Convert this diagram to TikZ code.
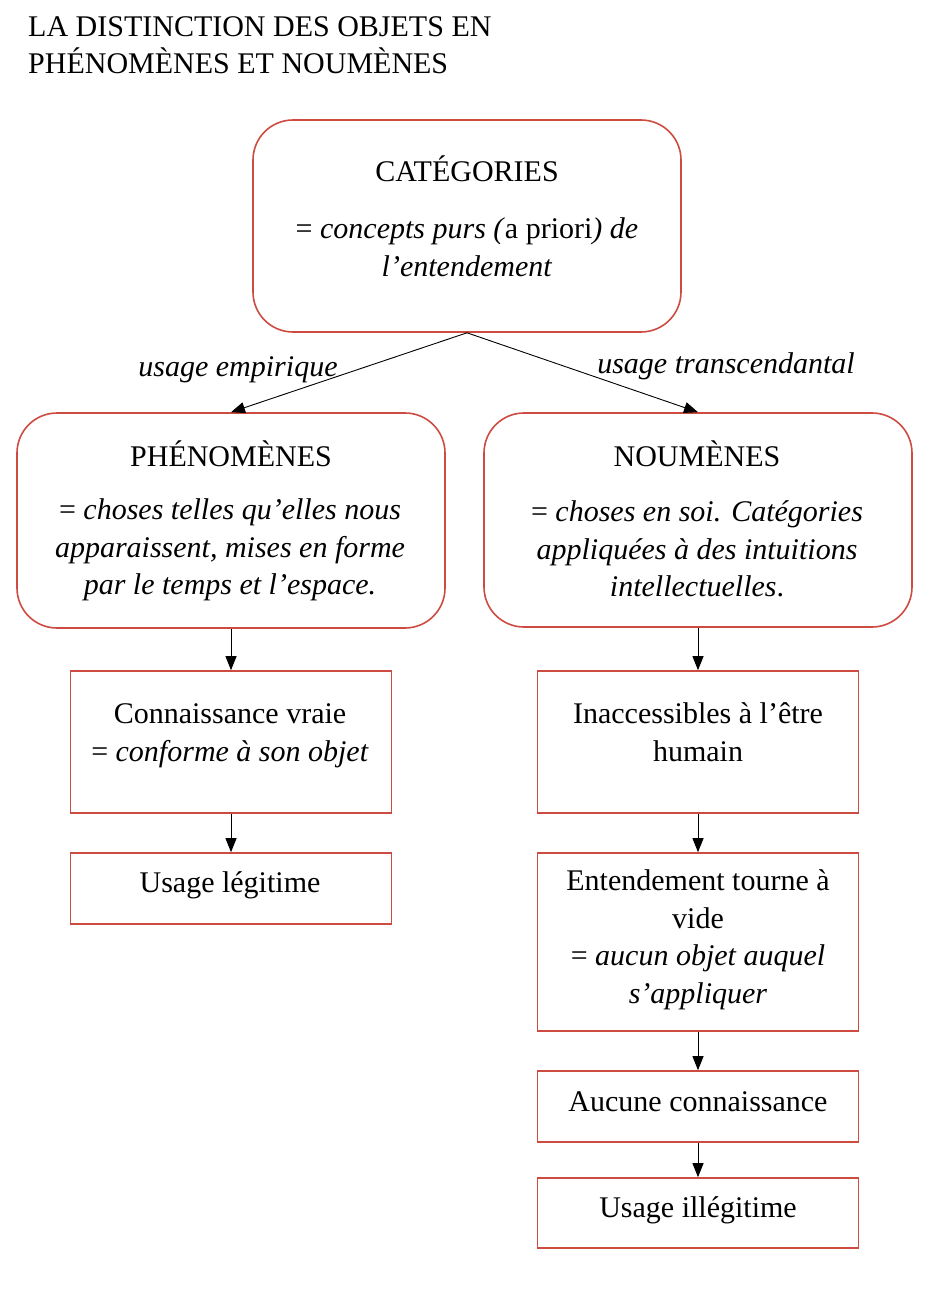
\documentclass[tikz,border=0pt]{standalone}
\usepackage{fontspec}
\setmainfont{Liberation Serif}
\usetikzlibrary{arrows.meta}
\definecolor{boxred}{RGB}{205,75,65}
\begin{document}
\begin{tikzpicture}[x=1pt,y=-1pt,
  every node/.style={font=\fontsize{30}{37.5}\selectfont, inner sep=0pt},
  rbox/.style={draw=boxred, line width=1.6pt, rounded corners=40pt, minimum width=428pt, minimum height=213pt},
  sbox/.style={draw=boxred, line width=1.6pt, minimum width=321pt},
  txt/.style={align=center},
  arr/.style={-{Triangle[length=14pt,width=11pt]}, line width=0.9pt}]
\useasboundingbox[fill=white] (0,0) rectangle (936,1297);
% title
\node[anchor=west, align=left, font=\fontsize{30}{37}\selectfont] (title) at (28,45) {LA DISTINCTION DES OBJETS EN\\PHÉNOMÈNES ET NOUMÈNES};
% boxes
\node[rbox, minimum height=212pt] (cat) at (467,226) {};
\node[rbox, minimum height=215pt] (phen) at (231,520.5) {};
\node[rbox, minimum height=214pt] (noum) at (698,520) {};
\node[sbox, minimum height=142pt] (conn) at (231,742) {};
\node[sbox, minimum height=71pt] (legit) at (231,888.5) {};
\node[sbox, minimum height=142pt] (inacc) at (698,742) {};
\node[sbox, minimum height=178pt] (ent) at (698,942) {};
\node[sbox, minimum height=71pt] (aucune) at (698,1106.5) {};
\node[sbox, minimum height=70pt] (illeg) at (698,1213) {};
% texts
\node[txt] (catT) at (467,169) {CATÉGORIES};
\node[txt] (catD) at (467,247) {= \textit{concepts purs (}a priori\textit{) de}\\\textit{l’entendement}};
\node[txt] (phenT) at (231,454) {PHÉNOMÈNES};
\node[txt] (phenD) at (230,550) {= \textit{choses telles qu’elles nous}\\\textit{apparaissent, mises en forme}\\\textit{par le temps et l’espace.}};
\node[txt] (noumT) at (697,454) {NOUMÈNES};
\node[txt] (noumD) at (697,549) {= \textit{choses en soi. Catégories}\\\textit{appliquées à des intuitions}\\\textit{intellectuelles}.};
\node[txt] (connT) at (230,736) {Connaissance vraie\\= \textit{conforme à son objet}};
\node[txt] (legitT) at (230,885) {Usage légitime};
\node[txt] (inaccT) at (698,732) {Inaccessibles à l’être\\humain};
\node[txt] (entT) at (698,940) {Entendement tourne à\\vide\\= \textit{aucun objet auquel}\\\textit{s’appliquer}};
\node[txt] (aucuneT) at (698,1102) {Aucune connaissance};
\node[txt] (illegT) at (698,1210) {Usage illégitime};
% connectors
\draw[arr] (cat.south) -- (phen.north);
\draw[arr] (cat.south) -- (noum.north);
\node[font=\fontsize{30}{35}\itshape] (lemp) at (238,370) {usage empirique};
\node[font=\fontsize{30}{35}\itshape] (ltra) at (726,366) {usage transcendantal};
\draw[arr] (phen.south) -- (conn.north);
\draw[arr] (conn.south) -- (legit.north);
\draw[arr] (noum.south) -- (inacc.north);
\draw[arr] (inacc.south) -- (ent.north);
\draw[arr] (ent.south) -- (aucune.north);
\draw[arr] (aucune.south) -- (illeg.north);
\end{tikzpicture}
\end{document}
